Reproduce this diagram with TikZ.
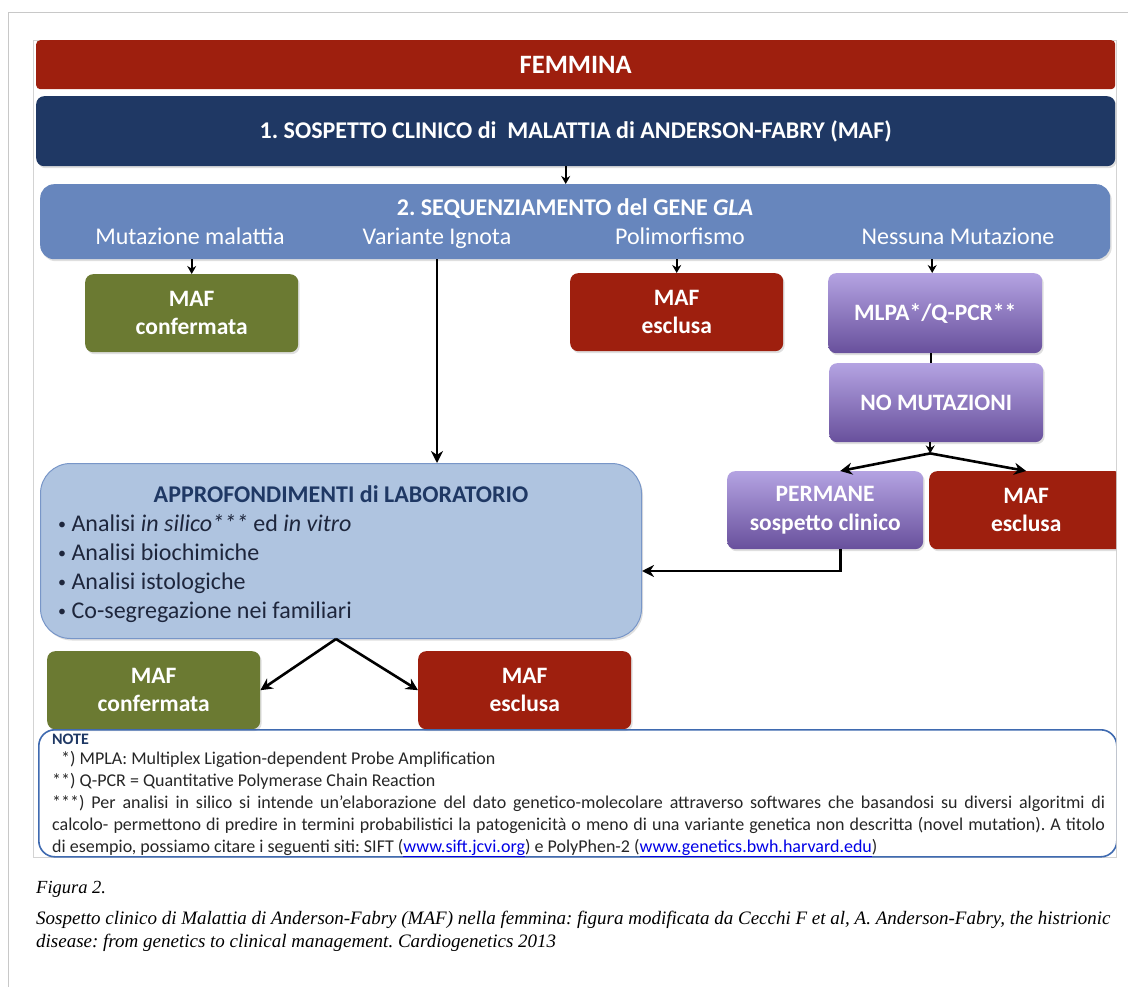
\documentclass[tikz,border=0pt]{standalone}
\usepackage{fontspec}
\setmainfont{Carlito}
\newfontfamily\capfont{Liberation Serif}
\usetikzlibrary{arrows.meta,shadows}
\definecolor{redc}{RGB}{158,31,14}
\definecolor{navyc}{RGB}{31,56,100}
\definecolor{seqc}{RGB}{103,134,189}
\definecolor{greenc}{RGB}{107,122,50}
\definecolor{purpT}{RGB}{180,163,226}
\definecolor{purpB}{RGB}{104,80,156}
\definecolor{apfill}{RGB}{175,196,224}
\definecolor{apdraw}{RGB}{120,150,200}
\definecolor{notec}{RGB}{63,106,176}
\definecolor{textc}{RGB}{30,38,60}
\definecolor{linkc}{RGB}{0,0,230}
\definecolor{framec}{RGB}{200,200,200}
\frenchspacing
\begin{document}
\begin{tikzpicture}[x=1pt,y=-1pt,
  arr/.style={line width=2.6pt,-{Stealth[length=12pt,width=12pt]}},
  sarr/.style={line width=2.2pt,-{Stealth[length=8pt,width=9pt]}},
  conn/.style={line width=2.2pt},
  shad/.style={drop shadow={opacity=0.25,shadow xshift=1.5pt,shadow yshift=-2pt}},
  box/.style={anchor=north west,rounded corners=8pt,minimum width=213pt,minimum height=78pt,inner sep=0pt,align=center,text=white,font=\fontsize{23.5}{28.5}\selectfont\bfseries,shad},
  greenbox/.style={box,fill=greenc},
  redbox/.style={box,fill=redc},
  purpbox/.style={box,top color=purpT,bottom color=purpB},
  bar/.style={anchor=north west,inner sep=0pt,text=white,font=\fontsize{24}{28}\selectfont\bfseries},
  seqlbl/.style={anchor=base,text=white,inner sep=0pt,font=\fontsize{24}{28}\selectfont},
  aptxt/.style={anchor=base west,inner sep=0pt,text=textc,font=\fontsize{24}{28}\selectfont},
  notetxt/.style={anchor=base west,inner sep=0pt,text=black!85,font=\fontsize{18}{22}\selectfont},
  captxt/.style={anchor=base west,inner sep=0pt,text=black,font=\capfont\itshape\fontsize{19}{22}\selectfont}
]
\useasboundingbox (0,0) rectangle (1128,987);
\fill[white] (0,0) rectangle (1128,987);
\draw[framec,line width=1pt] (8,987) -- (8,13) -- (1128,13);
\draw[framec!80,line width=0.6pt] (33,40) rectangle (1116,857);

\begin{scope}
\clip (33,40) rectangle (1116,858);
% top bars
\node[bar,fill=redc,rounded corners=4pt,minimum width=1079pt,minimum height=49pt,font=\fontsize{26.5}{30}\selectfont\bfseries] (fem) at (36,40) {FEMMINA};
\node[bar,fill=navyc,rounded corners=8pt,minimum width=1079pt,minimum height=70pt,shad] (sosp) at (36,96) {1. SOSPETTO CLINICO di\ \ MALATTIA di ANDERSON-FABRY (MAF)};

% sequencing
\node[anchor=north west,fill=seqc,rounded corners=14pt,minimum width=1070pt,minimum height=75pt,inner sep=0pt,shad] (seq) at (40,184) {};
\node[seqlbl,font=\fontsize{24}{28}\selectfont\bfseries] (seqt) at (575,216) {2. SEQUENZIAMENTO del GENE \textit{GLA}};
\node[seqlbl] (lmut) at (190,245) {Mutazione malattia};
\node[seqlbl] (lvar) at (437,245) {Variante Ignota};
\node[seqlbl] (lpol) at (680,245) {Polimorfismo};
\node[seqlbl] (lnes) at (958,245) {Nessuna Mutazione};

% first row
\node[greenbox] (conf1) at (85,274) {MAF\\confermata};
\node[redbox] (escl1) at (570,273) {MAF\\esclusa};
\node[purpbox,minimum width=214pt,minimum height=80pt] (mlpa) at (828,273) {MLPA*/Q-PCR**};
\node[purpbox,minimum width=214pt,minimum height=79pt] (nomut) at (829,363) {NO MUTAZIONI};
\node[purpbox,minimum width=196pt,minimum height=78pt] (perm) at (727,471) {PERMANE\\sospetto clinico};
\node[redbox,minimum width=194pt] (escl2) at (929,471) {MAF\\esclusa};

% laboratory
\node[anchor=north west,fill=apfill,draw=apdraw,line width=1pt,rounded corners=30pt,minimum width=601pt,minimum height=175pt,inner sep=0pt,shad] (approf) at (40,463) {};
\node[anchor=base,inner sep=0pt,text=navyc,font=\fontsize{24}{28}\selectfont\bfseries] (apt) at (341,502) {APPROFONDIMENTI di LABORATORIO};
\node[aptxt] (b1) at (58,531) {{\fontsize{16}{16}\selectfont\raisebox{1.5pt}{\textbullet}}\ Analisi \textit{in silico***} ed \textit{in vitro}};
\node[aptxt] (b2) at (58,560) {{\fontsize{16}{16}\selectfont\raisebox{1.5pt}{\textbullet}}\ Analisi biochimiche};
\node[aptxt] (b3) at (58,589) {{\fontsize{16}{16}\selectfont\raisebox{1.5pt}{\textbullet}}\ Analisi istologiche};
\node[aptxt] (b4) at (58,618) {{\fontsize{16}{16}\selectfont\raisebox{1.5pt}{\textbullet}}\ Co-segregazione nei familiari};

% bottom row
\node[greenbox] (conf2) at (47,651) {MAF\\confermata};
\node[redbox] (escl3) at (418,651) {MAF\\esclusa};

% note box
\node[anchor=north west,draw=notec,line width=1.6pt,rounded corners=16pt,minimum width=1078pt,minimum height=127pt,inner sep=0pt] (note) at (38,729) {};
\end{scope}

\node[anchor=base west,inner sep=0pt,text=navyc,font=\fontsize{16}{18}\selectfont\bfseries] (nt) at (52,744) {NOTE};
\node[notetxt] (n1) at (61,764) {*) MPLA: Multiplex Ligation-dependent Probe Amplification};
\node[notetxt] (n2) at (52,786) {**) Q-PCR = Quantitative Polymerase Chain Reaction};
\node[notetxt] (n3) at (52,808) {\makebox[1053pt][s]{***) Per analisi in silico si intende un’elaborazione del dato genetico-molecolare attraverso softwares che basandosi su diversi algoritmi di}};
\node[notetxt] (n4) at (52,830) {\makebox[1053pt][s]{calcolo- permettono di predire in termini probabilistici la patogenicità o meno di una variante genetica non descritta (novel mutation). A titolo}};
\node[notetxt] (n5) at (52,852) {di esempio, possiamo citare i seguenti siti: SIFT (\textcolor{linkc}{\underline{www.sift.jcvi.org}}) e PolyPhen-2 (\textcolor{linkc}{\underline{www.genetics.bwh.harvard.edu}})};

% connectors
\draw[sarr] ([xshift=-10pt]sosp.south) -- ([xshift=-10pt]sosp.south |- seq.north);
\draw[sarr] (conf1.north |- seq.south) -- (conf1.north);
\draw[sarr] (escl1.north |- seq.south) -- (escl1.north);
\draw[sarr] ([xshift=-3pt]mlpa.north |- seq.south) -- ([xshift=-3pt]mlpa.north);
\draw[arr,line width=2.2pt] (lvar.south |- seq.south) -- (lvar.south |- approf.north);
\draw[conn] ([xshift=-4pt]mlpa.south) -- ([xshift=-4pt]mlpa.south |- nomut.north);
\coordinate (br) at ([xshift=-6pt,yshift=-11pt]nomut.south);
\draw[sarr] ([xshift=-6pt]nomut.south) -- (br);
\draw[arr] (br) -- ([xshift=15pt]perm.north);
\draw[arr] (br) -- (escl2.north);
\draw[arr] ([xshift=15pt]perm.south) |- ([yshift=-20pt]approf.east);
\coordinate (ap) at ([xshift=-5pt]approf.south);
\draw[arr] (ap) -- (conf2.east);
\draw[arr] (ap) -- (escl3.west);

% caption
\node[captxt,font=\capfont\itshape\fontsize{18.5}{22}\selectfont] (fig) at (36,893) {Figura 2.};
\node[captxt] (c1) at (36,924) {Sospetto clinico di Malattia di Anderson-Fabry (MAF) nella femmina: figura modificata da Cecchi F et al, A. Anderson-Fabry, the histrionic};
\node[captxt] (c2) at (36,947) {disease: from genetics to clinical management. Cardiogenetics 2013};
\end{tikzpicture}
\end{document}
